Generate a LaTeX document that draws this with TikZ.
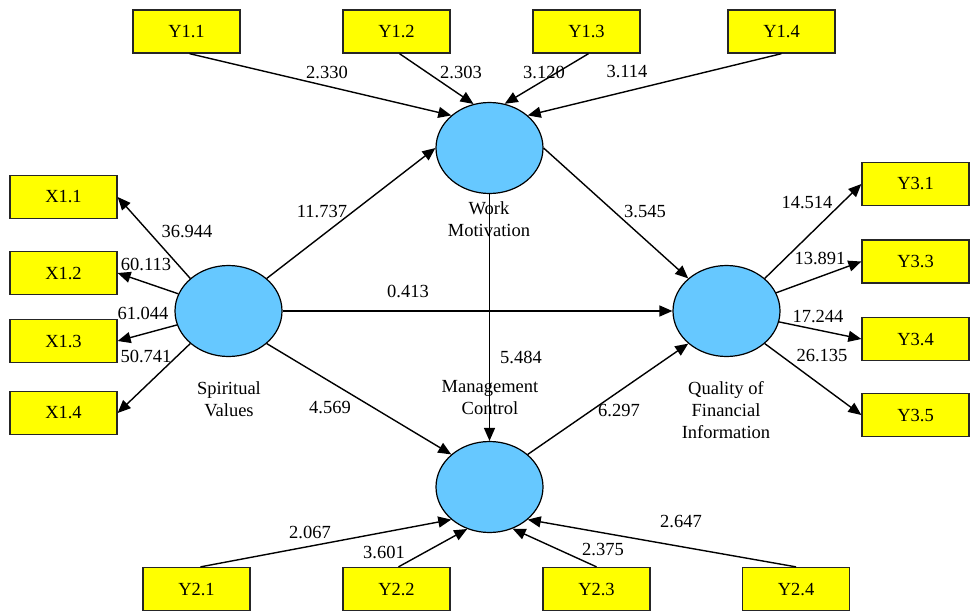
\documentclass[tikz,border=0pt]{standalone}
\usepackage{fontspec}
\setmainfont{Liberation Serif}
\usetikzlibrary{arrows.meta,shapes.geometric}
\definecolor{boxyellow}{RGB}{255,255,0}
\definecolor{latblue}{RGB}{102,200,255}
\begin{document}
\begin{tikzpicture}[x=1pt,y=-1pt,
  every node/.style={font=\fontsize{18.5}{22}\selectfont},
  ind/.style={draw=black!85,line width=1.3pt,fill=boxyellow,minimum width=107pt,minimum height=43pt,inner sep=0pt},
  lat/.style={ellipse,draw=black,line width=1.2pt,fill=latblue,minimum width=107pt,minimum height=91pt,inner sep=0pt},
  lname/.style={align=center,inner sep=0pt},
  lbl/.style={inner sep=0pt},
  conn/.style={-{Triangle[length=13pt,width=11pt]},line width=1.4pt}]
\useasboundingbox (0,0) rectangle (971,611);
% latent variables
\node[lat] (WM) at (489.5,148) {};
\node[lat] (SV) at (228.5,311) {};
\node[lat] (QF) at (726.5,311) {};
\node[lat] (MC) at (489.5,487) {};
% latent names
\node[lname] (WMn) at (489,219) {Work\\Motivation};
\node[lname] (SVn) at (229,399) {Spiritual\\Values};
\node[lname] (MCn) at (490,398) {Management\\Control};
\node[lname] (QFn) at (726,410) {Quality of\\Financial\\Information};
% indicators
\node[ind] (Y11) at (186.5,31.5) {Y1.1};
\node[ind] (Y12) at (396.5,31.5) {Y1.2};
\node[ind] (Y13) at (586.5,31.5) {Y1.3};
\node[ind] (Y14) at (781.5,31.5) {Y1.4};
\node[ind] (X11) at (63.5,197) {X1.1};
\node[ind] (X12) at (63.5,273) {X1.2};
\node[ind] (X13) at (63.5,341) {X1.3};
\node[ind] (X14) at (63.5,413) {X1.4};
\node[ind] (Y31) at (915.5,184) {Y3.1};
\node[ind] (Y33) at (915.5,261.5) {Y3.3};
\node[ind] (Y34) at (915.5,339) {Y3.4};
\node[ind] (Y35) at (915.5,415) {Y3.5};
\node[ind] (Y21) at (196.5,589) {Y2.1};
\node[ind] (Y22) at (396.5,589) {Y2.2};
\node[ind] (Y23) at (596.5,589) {Y2.3};
\node[ind] (Y24) at (796,589) {Y2.4};
% connectors
\draw[conn] ([xshift=3pt]Y11.south) -- (WM.north west);
\draw[conn] ([xshift=3pt]Y12.south) -- (WM.110);
\draw[conn] ([xshift=2pt]Y13.south) -- (WM.71);
\draw[conn] (Y14.south) -- (WM.north east);
\draw[conn] (SV.north west) -- (X11.east);
\draw[conn] (SV) -- (X12.east);
\draw[conn] (SV) -- (X13.east);
\draw[conn] (SV.south west) -- (X14.east);
\draw[conn] (QF.north east) -- (Y31.west);
\draw[conn] (QF) -- (Y33.west);
\draw[conn] (QF) -- (Y34.west);
\draw[conn] (QF.south east) -- (Y35.west);
\draw[conn] ([xshift=4pt]Y21.north) -- (MC.south west);
\draw[conn] ([xshift=2pt]Y22.north) -- (MC.242);
\draw[conn] (Y23.north) -- (MC.299);
\draw[conn] (Y24.north) -- (MC.south east);
\draw[conn] (SV.north east) -- (WM.west);
\draw[conn] (SV.east) -- (QF.west);
\draw[conn] (SV.south east) -- (MC.north west);
\draw[conn] (WM.east) -- (QF.north west);
\draw[conn] (WM.south) -- (MC.north);
\draw[conn] (MC.north east) -- (QF.south west);
% edge labels
\node[lbl] (l1) at (327,72) {2.330};
\node[lbl] (l2) at (461,72) {2.303};
\node[lbl] (l3) at (544,72) {3.120};
\node[lbl] (l4) at (627,72) {3.114};
\node[lbl] (l5) at (187,232) {36.944};
\node[lbl] (l6) at (146,264) {60.113};
\node[lbl] (l7) at (143,313) {61.044};
\node[lbl] (l8) at (146,356) {50.741};
\node[lbl] (l9) at (322,211) {11.737};
\node[lbl] (l10) at (408,291) {0.413};
\node[lbl] (l11) at (330,407) {4.569};
\node[lbl] (l12) at (645,212) {3.545};
\node[lbl] (l13) at (521,357) {5.484};
\node[lbl] (l14) at (619,410) {6.297};
\node[lbl] (l15) at (807,203) {14.514};
\node[lbl] (l16) at (820,258) {13.891};
\node[lbl] (l17) at (818,316) {17.244};
\node[lbl] (l18) at (822,355) {26.135};
\node[lbl] (l19) at (310,532) {2.067};
\node[lbl] (l20) at (384,552) {3.601};
\node[lbl] (l21) at (603,549) {2.375};
\node[lbl] (l22) at (681,521) {2.647};
\end{tikzpicture}
\end{document}
